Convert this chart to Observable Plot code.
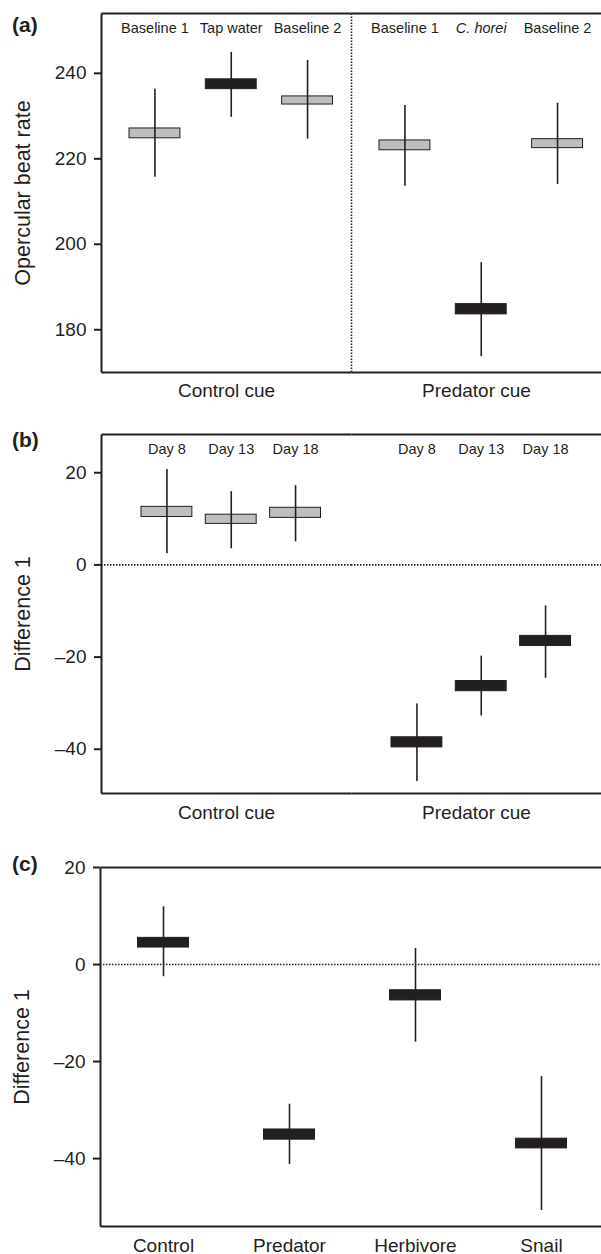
<!DOCTYPE html>
<html><head><meta charset="utf-8">
<script src="https://cdn.jsdelivr.net/npm/d3@7"></script>
<script src="https://cdn.jsdelivr.net/npm/@observablehq/plot@0.6"></script>
<style>
body{margin:0;background:#fff;}
#wrap{position:relative;width:601px;height:1254px;font-family:"Liberation Sans",Arial,Helvetica,sans-serif;color:#231f20;}
#wrap svg{display:block;}
.lab{position:absolute;left:12px;font-weight:bold;font-size:21px;line-height:1;}
</style></head><body>
<div id="wrap">
  <div class="lab" style="top:14px">(a)</div>
  <div class="lab" style="top:429px">(b)</div>
  <div class="lab" style="top:853px">(c)</div>
</div>
<script>
const INK = "#231f20", GRAY = "#bcbec0";
const FONT = '"Liberation Sans", Arial, Helvetica, sans-serif';

// ---- Panel (a) ----
const groupsA = ["Control cue","Control cue","Control cue","Predator cue","Predator cue","Predator cue"];
const labelsA = ["Baseline 1","Tap water","Baseline 2","Baseline 1","C. horei","Baseline 2"];
const kindA   = ["baseline","treatment","baseline","baseline","treatment","baseline"];
const boxLoA  = [224.8, 236.3, 232.7, 222.0, 183.6, 222.5];
const boxHiA  = [227.1, 238.6, 234.6, 224.3, 186.0, 224.6];
const ciLoA   = [215.7, 229.7, 224.6, 213.6, 173.7, 214.0];
const ciHiA   = [236.3, 244.9, 243.0, 232.5, 195.7, 233.0];
const ticksA  = [180, 200, 220, 240];

// ---- Panel (b) ----
const groupsB = ["Control cue","Control cue","Control cue","Predator cue","Predator cue","Predator cue"];
const labelsB = ["Day 8","Day 13","Day 18","Day 8","Day 13","Day 18"];
const kindB   = ["baseline","baseline","baseline","treatment","treatment","treatment"];
const boxLoB  = [10.4, 8.9, 10.2, -39.6, -27.4, -17.6];
const boxHiB  = [12.6, 10.9, 12.4, -37.4, -25.2, -15.4];
const ciLoB   = [2.4, 3.5, 5.0, -47.0, -32.8, -24.6];
const ciHiB   = [20.7, 15.9, 17.2, -30.2, -19.8, -8.9];
const ticksB  = [-40, -20, 0, 20];

// ---- Panel (c) ----
const labelsC = ["Control","Predator","Herbivore","Snail"];
const boxLoC  = [3.5, -36.1, -7.4, -37.9];
const boxHiC  = [5.5, -34.0, -5.3, -35.9];
const ciLoC   = [-2.5, -41.2, -16.0, -50.7];
const ciHiC   = [11.9, -28.8, 3.3, -23.1];
const ticksC  = [-40, -20, 0, 20];

const fmt = d => d < 0 ? "\u2013" + Math.abs(d) : String(d);

function rows(groups, labels, kinds, lo, hi, cl, ch) {
  return labels.map((label, i) => ({
    group: groups ? groups[i] : null,
    slot: groups ? String(i % 3) : label,
    label, kind: kinds ? kinds[i] : "treatment",
    boxLo: lo[i], boxHi: hi[i], ciLo: cl[i], ciHi: ch[i]
  }));
}
const rowsA = rows(groupsA, labelsA, kindA, boxLoA, boxHiA, ciLoA, ciHiA);
const rowsB = rows(groupsB, labelsB, kindB, boxLoB, boxHiB, ciLoB, ciHiB);
const rowsC = rows(null, labelsC, null, boxLoC, boxHiC, ciLoC, ciHiC);

const style = {fontFamily: FONT, fontSize: "19px", color: INK, background: "white", overflow: "visible"};
const color = {domain: ["baseline","treatment"], range: [GRAY, INK]};
const solidStyle = {stroke: INK, strokeWidth: 2, strokeLinecap: "butt"};
const dotted = {stroke: INK, strokeWidth: 1.6, strokeDasharray: "1.5,1.5", strokeLinecap: "butt"};
const yLab = {labelAnchor: "center", labelOffset: 87, labelArrow: "none"};

const plotA = Plot.plot({
  width: 601, height: 410, marginTop: 13, marginBottom: 38, marginLeft: 100, marginRight: 0,
  style,
  fx: {padding: 0, domain: ["Control cue","Predator cue"]},
  x: {type: "band", axis: null, paddingInner: 0.333, paddingOuter: 0, round: false, insetLeft: 28, insetRight: 18.5},
  y: {domain: [170, 254]},
  color,
  marks: [
    Plot.frame({anchor: "left", fx: ["Predator cue"], ...dotted}),
    Plot.barY(rowsA, {fx: "group", x: "slot", y1: "boxLo", y2: "boxHi", fill: "kind", stroke: INK, strokeWidth: 1}),
    Plot.ruleX(rowsA, {fx: "group", x: "slot", y1: "ciLo", y2: "ciHi", stroke: INK, strokeWidth: 1.6}),
    Plot.text(rowsA, {filter: d => d.label !== "C. horei", fx: "group", x: "slot", text: "label", frameAnchor: "top", lineAnchor: "bottom", dy: 19, fontSize: 14.5, fill: INK}),
    Plot.text(rowsA, {filter: d => d.label === "C. horei", fx: "group", x: "slot", text: "label", frameAnchor: "top", lineAnchor: "bottom", dy: 19, fontSize: 14.5, fontStyle: "italic", fill: INK}),
    Plot.frame({anchor: "top", ...solidStyle}),
    Plot.frame({anchor: "bottom", ...solidStyle}),
    Plot.frame({anchor: "left", fx: ["Control cue"], ...solidStyle}),
    Plot.axisY({ticks: ticksA, tickFormat: fmt, tickSize: 7, tickPadding: 8, strokeWidth: 2, fontSize: 19}),
    Plot.axisY({ticks: [], label: "Opercular beat rate", fontSize: 21.5, ...yLab}),
    Plot.axisFx({anchor: "bottom", tickSize: 0, tickPadding: 11, label: null, fontSize: 19})
  ]
});

const plotB = Plot.plot({
  width: 601, height: 420, marginTop: 24, marginBottom: 37, marginLeft: 100, marginRight: 0,
  style,
  fx: {padding: 0, domain: ["Control cue","Predator cue"]},
  x: {type: "band", axis: null, paddingInner: 0.209, paddingOuter: 0, round: false, insetLeft: 40, insetRight: 30.5},
  y: {domain: [-49.6, 28.3]},
  color,
  marks: [
    Plot.ruleY([0], dotted),
    Plot.barY(rowsB, {fx: "group", x: "slot", y1: "boxLo", y2: "boxHi", fill: "kind", stroke: INK, strokeWidth: 1}),
    Plot.ruleX(rowsB, {fx: "group", x: "slot", y1: "ciLo", y2: "ciHi", stroke: INK, strokeWidth: 1.6}),
    Plot.text(rowsB, {fx: "group", x: "slot", text: "label", frameAnchor: "top", lineAnchor: "bottom", dy: 19, fontSize: 14.5, fill: INK}),
    Plot.frame({anchor: "top", ...solidStyle}),
    Plot.frame({anchor: "bottom", ...solidStyle}),
    Plot.frame({anchor: "left", fx: ["Control cue"], ...solidStyle}),
    Plot.axisY({ticks: ticksB, tickFormat: fmt, tickSize: 7, tickPadding: 8, strokeWidth: 2, fontSize: 19}),
    Plot.axisY({ticks: [], label: "Difference 1", fontSize: 21.5, ...yLab}),
    Plot.axisFx({anchor: "bottom", tickSize: 0, tickPadding: 12, label: null, fontSize: 19})
  ]
});

const plotC = Plot.plot({
  width: 601, height: 424, marginTop: 37, marginBottom: 28, marginLeft: 100, marginRight: 0,
  style,
  x: {type: "band", domain: labelsC, paddingInner: 0.595, paddingOuter: 0, round: false, insetLeft: 37.5, insetRight: 34.5},
  y: {domain: [-54, 20]},
  color,
  marks: [
    Plot.ruleY([0], dotted),
    Plot.barY(rowsC, {x: "slot", y1: "boxLo", y2: "boxHi", fill: "kind", stroke: INK, strokeWidth: 1}),
    Plot.ruleX(rowsC, {x: "slot", y1: "ciLo", y2: "ciHi", stroke: INK, strokeWidth: 1.6}),
    Plot.frame({anchor: "top", ...solidStyle}),
    Plot.frame({anchor: "bottom", ...solidStyle}),
    Plot.frame({anchor: "left", ...solidStyle}),
    Plot.axisY({ticks: ticksC, tickFormat: fmt, tickSize: 7, tickPadding: 8, strokeWidth: 2, fontSize: 19}),
    Plot.axisY({ticks: [], label: "Difference 1", fontSize: 21.5, ...yLab}),
    Plot.axisX({anchor: "bottom", tickSize: 0, tickPadding: 12, label: null, fontSize: 19})
  ]
});

const wrap = document.getElementById("wrap");
const first = wrap.firstChild;
wrap.insertBefore(plotA, first);
wrap.insertBefore(plotB, first);
wrap.insertBefore(plotC, first);
</script>
</body></html>
